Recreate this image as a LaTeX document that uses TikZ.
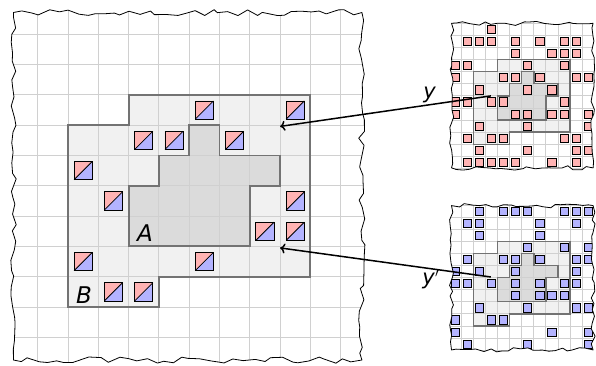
\documentclass[tikz,border=0pt]{standalone}
\usepackage{fontspec}
\setsansfont{DejaVu Sans}
\usetikzlibrary{decorations.pathmorphing,arrows.meta}
\definecolor{gridc}{HTML}{D0D0D0}
\definecolor{bfill}{HTML}{F1F1F1}
\definecolor{afill}{HTML}{DBDBDB}
\definecolor{outl}{HTML}{737373}
\definecolor{pinkc}{HTML}{FFB3B3}
\definecolor{bluec}{HTML}{B3B3FF}
\newcommand\regB{(0,0) -- (3,0) -- (3,1) -- (8,1) -- (8,7) -- (2,7) -- (2,6) -- (0,6) -- cycle}
\newcommand\regA{(2,2) -- (6,2) -- (6,4) -- (7,4) -- (7,5) -- (5,5) -- (5,6) -- (4,6) -- (4,5) -- (3,5) -- (3,4) -- (2,4) -- cycle}
\tikzset{
  bigtorn/.style={decorate, decoration={random steps, segment length=9pt, amplitude=3.2pt}},
  smalltorn/.style={decorate, decoration={random steps, segment length=6.5pt, amplitude=2.2pt}},
  gridline/.style={draw=gridc, line width=0.9pt},
  regionline/.style={draw=outl, line width=1.9pt, line join=miter},
  sregionline/.style={draw=outl, line width=1.4pt, line join=miter},
  sqline/.style={draw=black, line width=0.8pt},
  tornline/.style={draw=black, line width=0.8pt, line join=round},
  arr/.style={line width=1.5pt, -{To[length=5pt,width=10pt]}},
  lab/.style={font=\sffamily\itshape\fontsize{23}{23}\selectfont, inner sep=0pt},
  ylab/.style={font=\sffamily\itshape\fontsize{21}{21}\selectfont, inner sep=0pt}
}
\begin{document}
\begin{tikzpicture}[x=1pt,y=1pt]
\useasboundingbox (0,0) rectangle (596,366);
\fill[white] (0,0) rectangle (596,366);

% ---------------- big sheet ----------------
\begin{scope}[shift={(68,59)}, x=30.3pt, y=30.3pt]
  \pgfmathsetseed{11}
  \fill[white, bigtorn] (-1.8,-1.75) rectangle (9.7,9.72);
  \begin{scope}
    \pgfmathsetseed{11}
    \clip[bigtorn] (-1.8,-1.75) rectangle (9.7,9.72);
    \fill[bfill] \regB;
    \fill[afill] \regA;
    \foreach \i in {-3,...,11} {
      \draw[gridline] (\i,-3) -- (\i,11);
      \draw[gridline] (-3,\i) -- (11,\i);
    }
    \draw[regionline] \regB;
    \draw[regionline] \regA;
    \foreach \c/\r in {4/6,7/6,2/5,3/5,5/5,0/4,1/3,7/3,6/2,7/2,0/1,4/1,1/0,2/0} {
      \fill[pinkc] (\c+0.2,\r+0.2) -- (\c+0.2,\r+0.8) -- (\c+0.8,\r+0.8) -- cycle;
      \fill[bluec] (\c+0.2,\r+0.2) -- (\c+0.8,\r+0.2) -- (\c+0.8,\r+0.8) -- cycle;
      \draw[sqline] (\c+0.2,\r+0.2) rectangle (\c+0.8,\r+0.8);
      \draw[sqline] (\c+0.2,\r+0.2) -- (\c+0.8,\r+0.8);
    }
    \node[lab] (labA) at (2.54,2.44) {A};
    \node[lab] (labB) at (0.53,0.4) {B};
  \end{scope}
  \pgfmathsetseed{11}
  \draw[tornline, bigtorn] (-1.8,-1.75) rectangle (9.7,9.72);
  \coordinate (ytip) at (7.0,5.96);
  \coordinate (yptip) at (7.0,1.95);
\end{scope}

% ---------------- top small sheet ----------------
\begin{scope}[shift={(473.3,221.7)}, x=12.1pt, y=12.1pt]
  \pgfmathsetseed{23}
  \fill[white, smalltorn] (-1.8,-1.95) rectangle (9.9,10.0);
  \begin{scope}
    \pgfmathsetseed{23}
    \clip[smalltorn] (-1.8,-1.95) rectangle (9.9,10.0);
    \fill[bfill] \regB;
    \fill[afill] \regA;
    \foreach \i in {-3,...,11} {
      \draw[gridline] (\i,-3) -- (\i,11);
      \draw[gridline] (-3,\i) -- (11,\i);
    }
    \draw[sregionline] \regB;
    \draw[sregionline] \regA;
    \foreach \c/\r in {1/9,
      -1/8,0/8,1/8,3/8,5/8,7/8,8/8,
      3/7,6/7,7/7,8/7,
      -2/6,-1/6,4/6,7/6,
      -2/5,2/5,3/5,5/5,8/5,9/5,
      0/4,4/4,6/4,
      -2/3,-1/3,1/3,2/3,7/3,
      -2/2,3/2,4/2,6/2,7/2,9/2,
      0/1,4/1,9/1,
      -1/0,1/0,2/0,7/0,8/0,
      0/-1,4/-1,8/-1,9/-1,
      -1/-2,0/-2,1/-2,2/-2,3/-2,6/-2,8/-2} {
      \fill[pinkc] (\c+0.16,\r+0.16) rectangle (\c+0.84,\r+0.84);
      \draw[sqline] (\c+0.16,\r+0.16) rectangle (\c+0.84,\r+0.84);
    }
  \end{scope}
  \pgfmathsetseed{23}
  \draw[tornline, smalltorn] (-1.8,-1.95) rectangle (9.9,10.0);
  \coordinate (ystart) at (1.45,4.0);
\end{scope}

% ---------------- bottom small sheet ----------------
\begin{scope}[shift={(473.3,40)}, x=12.1pt, y=12.1pt]
  \pgfmathsetseed{37}
  \fill[white, smalltorn] (-1.8,-1.98) rectangle (9.9,9.95);
  \begin{scope}
    \pgfmathsetseed{37}
    \clip[smalltorn] (-1.8,-1.98) rectangle (9.9,9.95);
    \fill[bfill] \regB;
    \fill[afill] \regA;
    \foreach \i in {-3,...,11} {
      \draw[gridline] (\i,-3) -- (\i,11);
      \draw[gridline] (-3,\i) -- (11,\i);
    }
    \draw[sregionline] \regB;
    \draw[sregionline] \regA;
    \foreach \c/\r in {0/9,2/9,3/9,4/9,7/9,8/9,9/9,
      -1/8,0/8,5/8,8/8,
      0/7,5/7,
      4/6,7/6,9/6,
      -1/5,2/5,3/5,5/5,8/5,9/5,
      -2/4,0/4,3/4,8/4,
      -2/3,-1/3,1/3,3/3,5/3,7/3,8/3,
      3/2,5/2,6/2,7/2,
      0/1,4/1,8/1,9/1,
      -2/0,1/0,2/0,
      -2/-1,6/-1,9/-1,
      -1/-2,4/-2,9/-2} {
      \fill[bluec] (\c+0.16,\r+0.16) rectangle (\c+0.84,\r+0.84);
      \draw[sqline] (\c+0.16,\r+0.16) rectangle (\c+0.84,\r+0.84);
    }
  \end{scope}
  \pgfmathsetseed{37}
  \draw[tornline, smalltorn] (-1.8,-1.98) rectangle (9.9,9.95);
  \coordinate (ypstart) at (1.45,4.05);
\end{scope}

% ---------------- arrows and labels ----------------
\draw[arr] (ystart) -- (ytip);
\draw[arr] (ypstart) -- (yptip);
\node[ylab] (laby) at (429.5,271) {y};
\node[ylab] (labyp) at (431,87) {y\kern0.5pt$'$};
\end{tikzpicture}
\end{document}
